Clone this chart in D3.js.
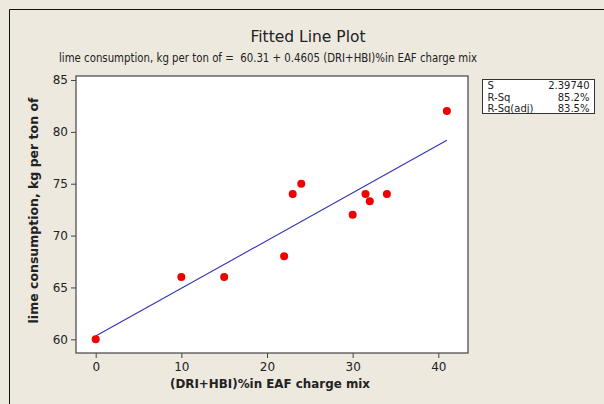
<!DOCTYPE html>
<html>
<head>
<meta charset="utf-8">
<script src="https://cdn.jsdelivr.net/npm/d3@7"></script>
<style>
  html, body { margin: 0; padding: 0; background: #ede9df; }
  svg { display: block; }
  text { font-family: "DejaVu Sans", Verdana, sans-serif; fill: #222; }
</style>
</head>
<body>
<svg id="chart" width="604" height="404"></svg>
<script>
// Observations: share of DRI+HBI in the charge (%) vs lime consumption (kg/t)
const driHbi = [0, 10, 15, 22, 23, 24, 30, 31.5, 32, 34, 41];
const limeUse = [60, 66, 66, 68, 74, 75, 72, 74, 73.3, 74, 82];

// Regression fit: y = a + b x
const intercept = 60.31;
const slope = 0.4605;

const xTicks = [0, 10, 20, 30, 40];
const yTicks = [60, 65, 70, 75, 80, 85];

const statLabels = ["S", "R-Sq", "R-Sq(adj)"];
const statValues = ["2.39740", "85.2%", "83.5%"];

const svg = d3.select("#chart");

// panel frame (left and top edges)
svg.append("path")
  .attr("d", "M9.5,404 V9.5 H604")
  .attr("fill", "none").attr("stroke", "#111").attr("stroke-width", 1);

const plot = { left: 76, right: 468, top: 76, bottom: 353 };

const x = d3.scaleLinear().domain([0, 40]).range([95.7, 438.3]);
const y = d3.scaleLinear().domain([60, 85]).range([339.3, 80]);

// titles
svg.append("text").attr("x", 308).attr("y", 42)
  .attr("text-anchor", "middle").attr("font-size", 15.5)
  .text("Fitted Line Plot");
svg.append("text").attr("x", 268).attr("y", 62)
  .attr("text-anchor", "middle").attr("font-size", 11.8)
  .style("white-space", "pre")
  .attr("font-family", "'DejaVu Sans Condensed', 'DejaVu Sans', sans-serif")
  .attr("textLength", 418).attr("lengthAdjust", "spacingAndGlyphs")
  .text("lime consumption, kg per ton of =  60.31 + 0.4605 (DRI+HBI)%in EAF charge mix");

// plotting region
svg.append("rect")
  .attr("x", plot.left).attr("y", plot.top)
  .attr("width", plot.right - plot.left).attr("height", plot.bottom - plot.top)
  .attr("fill", "#fff").attr("stroke", "#444").attr("stroke-width", 1.2);

// axes
const xAxis = svg.append("g").attr("transform", `translate(0,${plot.bottom})`)
  .call(d3.axisBottom(x).tickValues(xTicks).tickSize(5).tickSizeOuter(0).tickPadding(4));
const yAxis = svg.append("g").attr("transform", `translate(${plot.left},0)`)
  .call(d3.axisLeft(y).tickValues(yTicks).tickSize(5).tickSizeOuter(0).tickPadding(3));
[xAxis, yAxis].forEach(g => {
  g.select(".domain").remove();
  g.selectAll(".tick line").attr("stroke", "#444");
  g.selectAll(".tick text").attr("font-size", 12).attr("fill", "#333")
    .attr("font-family", "DejaVu Sans, sans-serif");
});

// axis titles
svg.append("text").attr("x", 270).attr("y", 388)
  .attr("text-anchor", "middle").attr("font-size", 12.5).attr("font-weight", "bold")
  .attr("textLength", 200).attr("lengthAdjust", "spacingAndGlyphs")
  .text("(DRI+HBI)%in EAF charge mix");
svg.append("text")
  .attr("transform", `translate(38,${(plot.top + plot.bottom) / 2 - 4}) rotate(-90)`)
  .attr("text-anchor", "middle").attr("font-size", 12.5).attr("font-weight", "bold")
  .text("lime consumption, kg per ton of");

// fitted line over the observed range
const xr = d3.extent(driHbi);
svg.append("line")
  .attr("x1", x(xr[0])).attr("y1", y(intercept + slope * xr[0]))
  .attr("x2", x(xr[1])).attr("y2", y(intercept + slope * xr[1]))
  .attr("stroke", "#3232b4").attr("stroke-width", 1.1);

// observations
svg.append("g").selectAll("circle")
  .data(driHbi.map((d, i) => [d, limeUse[i]]))
  .join("circle")
  .attr("cx", d => x(d[0])).attr("cy", d => y(d[1]))
  .attr("r", 4).attr("fill", "#f00000");

// summary statistics box
const box = { x: 482.5, y: 79.5, w: 112, h: 34 };
svg.append("rect").attr("x", box.x).attr("y", box.y)
  .attr("width", box.w).attr("height", box.h)
  .attr("fill", "#fff").attr("stroke", "#333").attr("stroke-width", 1);
statLabels.forEach((lab, i) => {
  svg.append("text").attr("x", box.x + 5).attr("y", box.y + 9.8 + i * 11.3)
    .attr("font-size", 10).text(lab);
  svg.append("text").attr("x", box.x + box.w - 5).attr("y", box.y + 9.8 + i * 11.3)
    .attr("text-anchor", "end").attr("font-size", 10).text(statValues[i]);
});
</script>
</body>
</html>
